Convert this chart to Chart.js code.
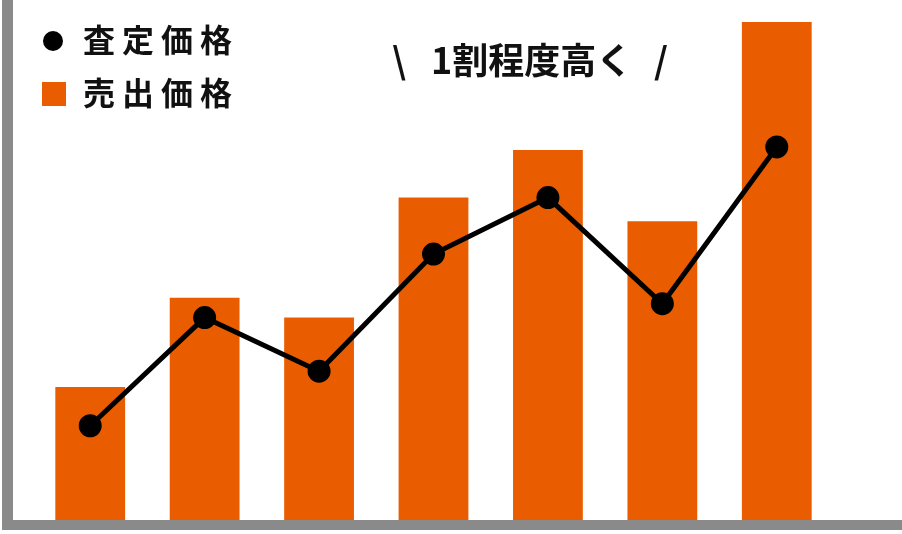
<!DOCTYPE html>
<html>
<head>
<meta charset="utf-8">
<script src="https://cdn.jsdelivr.net/npm/chart.js@4"></script>
<style>
  html, body { margin: 0; padding: 0; background: #fff; }
  #chart { display: block; }
</style>
</head>
<body>
<canvas id="chart" width="902" height="534"></canvas>
<script>
var labels = ["1", "2", "3", "4", "5", "6", "7"];
var sellPrice = [134, 224, 204, 325, 373, 301, 502];
var assessPrice = [95, 204, 150, 268, 325, 218, 376];
var legendNames = ["査定価格", "売出価格"];
var noteParts = ["\\", "1割程度高く", "/"];

var orange = "#E95D00";
var fontFamily = "'Noto Sans CJK JP', 'Noto Sans', sans-serif";

// gray axis lines + hand drawn legend and note
var decor = {
    id: "decor",
    beforeDatasetsDraw: function (chart) {
        var ctx = chart.ctx;
        var area = chart.chartArea;
        ctx.save();
        ctx.fillStyle = "#8a8a8a";
        ctx.fillRect(2, 0, 11, area.bottom + 10);
        ctx.fillRect(2, area.bottom, chart.width - 2, 10);
        ctx.restore();
    },
    afterDatasetsDraw: function (chart) {
        var ctx = chart.ctx;
        ctx.save();
        ctx.fillStyle = "#000";
        ctx.beginPath();
        ctx.arc(53, 41, 10, 0, Math.PI * 2);
        ctx.fill();
        ctx.fillStyle = orange;
        ctx.fillRect(42, 82, 24, 24);

        ctx.fillStyle = "#111";
        ctx.font = "bold 32px " + fontFamily;
        ctx.textBaseline = "middle";
        ctx.textAlign = "left";
        if ("letterSpacing" in ctx) ctx.letterSpacing = "7px";
        ctx.fillText(legendNames[0], 83, 40);
        ctx.fillText(legendNames[1], 83, 93);
        if ("letterSpacing" in ctx) ctx.letterSpacing = "0px";

        ctx.font = "bold 36px " + fontFamily;
        ctx.textAlign = "center";
        ctx.fillText(noteParts[0], 399, 60);
        ctx.fillText(noteParts[2], 661, 60);
        ctx.textAlign = "left";
        ctx.fillText(noteParts[1], 431, 60);
        ctx.restore();
    }
};

new Chart(document.getElementById("chart"), {
    type: "bar",
    data: {
        labels: labels,
        datasets: [
            {
                type: "line",
                label: legendNames[0],
                data: assessPrice,
                borderColor: "#000",
                backgroundColor: "#000",
                borderWidth: 5,
                pointRadius: 9,
                pointHoverRadius: 9,
                tension: 0,
                order: 0
            },
            {
                type: "bar",
                label: legendNames[1],
                data: sellPrice,
                backgroundColor: orange,
                borderWidth: 0,
                barPercentage: 0.61,
                categoryPercentage: 1,
                order: 1
            }
        ]
    },
    options: {
        responsive: false,
        animation: false,
        devicePixelRatio: 1,
        layout: { padding: { left: 33, right: 68, top: 10, bottom: 14 } },
        plugins: {
            legend: { display: false },
            tooltip: { enabled: false }
        },
        scales: {
            x: { display: false, offset: true },
            y: { display: false, min: 0, max: 510 }
        }
    },
    plugins: [decor]
});
</script>
</body>
</html>
